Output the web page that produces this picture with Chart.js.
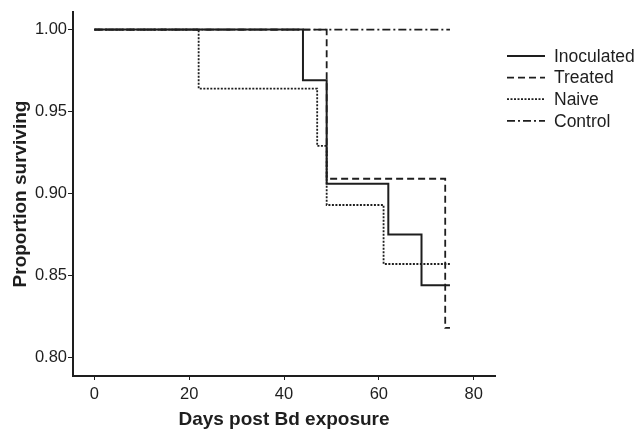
<!DOCTYPE html>
<html>
<head>
<meta charset="utf-8">
<script src="https://cdn.jsdelivr.net/npm/chart.js@4"></script>
<style>
  html, body { margin: 0; padding: 0; background: #fff; }
  #wrap { width: 640px; height: 431px; }
</style>
</head>
<body>
<div id="wrap"><canvas id="chart"></canvas></div>
<script>
// Kaplan-Meier curves, days post exposure vs proportion surviving
const seriesNames = ['Inoculated', 'Treated', 'Naive', 'Control'];

const inoculatedDays = [0, 44, 49, 62, 69, 75];
const inoculatedSurv = [1.000, 0.969, 0.906, 0.875, 0.844, 0.844];

const treatedDays = [0, 49, 74, 75];
const treatedSurv = [1.000, 0.909, 0.818, 0.818];

const naiveDays = [0, 22, 47, 49, 61, 75];
const naiveSurv = [1.000, 0.964, 0.929, 0.893, 0.857, 0.857];

const controlDays = [0, 75];
const controlSurv = [1.000, 1.000];

const xTicks = [0, 20, 40, 60, 80];
const yTicks = [0.80, 0.85, 0.90, 0.95, 1.00];

const ink = '#1e1e1e';
const dashes = [[], [7, 4], [2, 1.5], [8, 3, 2, 3]];

function toPoints(days, surv) {
    return days.map((d, i) => ({ x: d, y: surv[i] }));
}

const allSeries = [
    toPoints(inoculatedDays, inoculatedSurv),
    toPoints(treatedDays, treatedSurv),
    toPoints(naiveDays, naiveSurv),
    toPoints(controlDays, controlSurv)
];

const datasets = allSeries.map((pts, i) => ({
    label: seriesNames[i],
    data: pts,
    stepped: true,
    borderColor: ink,
    borderWidth: i === 0 ? 2 : 1.8,
    borderDash: dashes[i],
    pointRadius: 0,
    fill: false,
    order: i === 3 ? 5 : i
}));

// legend drawn by hand to sit where the original one is
const sideLegend = {
    id: 'sideLegend',
    afterDraw(chart) {
        const ctx = chart.ctx;
        ctx.save();
        chart.data.datasets.forEach((ds, i) => {
            const y = 56 + i * 21.6;
            ctx.strokeStyle = ink;
            ctx.lineWidth = ds.borderWidth;
            ctx.setLineDash(ds.borderDash);
            ctx.beginPath();
            ctx.moveTo(507, y);
            ctx.lineTo(545, y);
            ctx.stroke();
            ctx.setLineDash([]);
            ctx.fillStyle = ink;
            ctx.font = '17.5px "Liberation Sans", Arial, sans-serif';
            ctx.textBaseline = 'middle';
            ctx.fillText(ds.label, 554, y + 1);
        });
        ctx.restore();
    }
};

const tickFont = { family: '"Liberation Sans", Arial, sans-serif', size: 16.5 };
const titleFont = { family: '"Liberation Sans", Arial, sans-serif', size: 19, weight: 'bold' };

new Chart(document.getElementById('chart'), {
    type: 'line',
    data: { datasets: datasets },
    options: {
        responsive: true,
        maintainAspectRatio: false,
        animation: false,
        layout: { padding: { left: 0, right: 145, top: 12, bottom: 0 } },
        plugins: {
            legend: { display: false },
            tooltip: { enabled: false }
        },
        scales: {
            x: {
                type: 'linear',
                min: -4.5,
                max: 84.5,
                afterBuildTicks: s => { s.ticks = xTicks.map(v => ({ value: v })); },
                afterFit: s => { s.height = 55; },
                grid: { drawOnChartArea: false, drawTicks: true, tickLength: 4, color: ink, lineWidth: 1 },
                border: { display: true, color: ink, width: 2 },
                ticks: { color: ink, font: tickFont, padding: 5 },
                title: { display: true, text: 'Days post Bd exposure', color: ink, font: titleFont, padding: { top: -3, bottom: 0 } }
            },
            y: {
                type: 'linear',
                min: 0.7887,
                max: 1.0107,
                afterBuildTicks: s => { s.ticks = yTicks.map(v => ({ value: v })); },
                afterFit: s => { s.width = 73; },
                grid: { drawOnChartArea: false, drawTicks: true, tickLength: 5, color: ink, lineWidth: 1 },
                border: { display: true, color: ink, width: 2 },
                ticks: { color: ink, font: tickFont, padding: 1, callback: v => v.toFixed(2) },
                title: { display: true, text: 'Proportion surviving', color: ink, font: titleFont, padding: { top: 9, bottom: 0 } }
            }
        }
    },
    plugins: [sideLegend]
});
</script>
</body>
</html>
